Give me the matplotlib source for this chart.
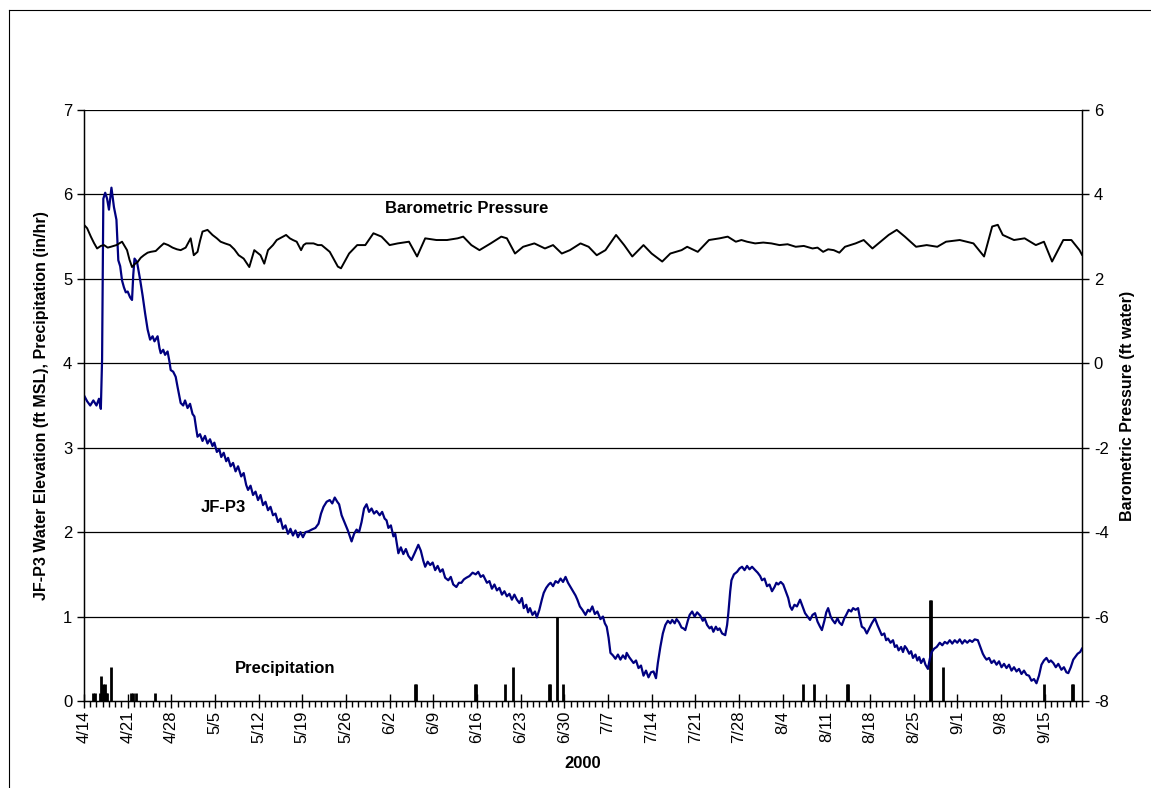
import matplotlib
matplotlib.use("Agg")
import matplotlib.pyplot as plt
from matplotlib.lines import Line2D
import numpy as np

plt.rcParams['font.family'] = ['Liberation Sans', 'DejaVu Sans']
plt.rcParams['axes.unicode_minus'] = False

# ---- data (days since 4/14/2000) ----
tick_labels = ['4/14', '4/21', '4/28', '5/5', '5/12', '5/19', '5/26', '6/2', '6/9', '6/16',
               '6/23', '6/30', '7/7', '7/14', '7/21', '7/28', '8/4', '8/11', '8/18', '8/25',
               '9/1', '9/8', '9/15']
tick_days = [7 * i for i in range(len(tick_labels))]

jf_days = [0.0, 0.5, 1.0, 1.5, 2.0, 2.4, 2.7, 2.9, 3.1, 3.4, 3.7, 4.0, 4.4, 4.8, 5.2, 5.5, 5.8, 6.1,
           6.4, 6.7, 7.0, 7.4, 7.7, 7.9, 8.1, 8.5, 9.0, 9.4, 9.8, 10.2, 10.6, 11.0, 11.3, 11.8, 12.1,
           12.3, 12.7, 13.0, 13.4, 13.7, 13.9, 14.3, 14.7, 15.0, 15.5, 15.9, 16.2, 16.6, 17.0, 17.4,
           17.7, 18.0, 18.2, 18.6, 19.0, 19.4, 19.8, 20.2, 20.6, 20.9, 21.3, 21.7, 22.0, 22.4, 22.8,
           23.1, 23.5, 23.9, 24.3, 24.7, 25.2, 25.6, 26.0, 26.3, 26.7, 27.1, 27.5, 27.9, 28.3, 28.7,
           29.1, 29.5, 29.9, 30.3, 30.7, 31.1, 31.5, 31.9, 32.3, 32.7, 33.1, 33.5, 33.9, 34.3, 34.7,
           35.1, 35.5, 36.0, 36.5, 37.1, 37.6, 38.0, 38.4, 38.9, 39.4, 39.8, 40.2, 40.6, 40.9, 41.3,
           41.8, 42.3, 42.9, 43.3, 43.7, 44.1, 44.5, 44.9, 45.3, 45.7, 46.1, 46.5, 46.9, 47.4, 47.8,
           48.2, 48.5, 48.8, 49.2, 49.6, 49.9, 50.4, 50.8, 51.2, 51.6, 52.0, 52.5, 53.0, 53.6, 54.0,
           54.4, 54.7, 55.1, 55.5, 55.9, 56.3, 56.7, 57.1, 57.5, 57.9, 58.4, 58.8, 59.2, 59.7, 60.1,
           60.5, 60.9, 61.3, 61.8, 62.3, 62.8, 63.2, 63.6, 64.0, 64.6, 65.0, 65.4, 65.8, 66.2, 66.6,
           67.0, 67.4, 67.8, 68.2, 68.6, 69.0, 69.4, 69.8, 70.2, 70.5, 70.9, 71.2, 71.5, 71.9, 72.3,
           72.6, 73.0, 73.4, 73.7, 74.1, 74.5, 74.8, 75.2, 75.6, 76.0, 76.4, 76.8, 77.2, 77.6, 78.0,
           78.4, 78.8, 79.1, 79.5, 79.9, 80.4, 80.8, 81.1, 81.5, 81.9, 82.3, 82.8, 83.2, 83.5, 83.8,
           84.1, 84.4, 84.8, 85.2, 85.6, 86.0, 86.4, 86.8, 87.0, 87.4, 87.8, 88.1, 88.5, 88.9, 89.3,
           89.7, 90.1, 90.5, 90.9, 91.3, 91.7, 92.0, 92.4, 92.8, 93.2, 93.6, 94.0, 94.3, 94.7, 95.0,
           95.4, 95.8, 96.1, 96.4, 96.8, 97.1, 97.5, 97.9, 98.3, 98.8, 99.2, 99.5, 99.9, 100.3, 100.6,
           100.9, 101.3, 101.6, 101.9, 102.3, 102.8, 103.1, 103.3, 103.6, 103.8, 104.2, 104.7, 105.1,
           105.5, 105.9, 106.3, 106.7, 107.1, 107.6, 108.0, 108.4, 108.7, 109.1, 109.5, 109.9, 110.3,
           110.7, 111.0, 111.3, 111.7, 112.1, 112.5, 112.9, 113.2, 113.5, 113.9, 114.3, 114.8, 115.2,
           115.6, 116.0, 116.4, 116.8, 117.2, 117.6, 118.0, 118.3, 118.7, 119.0, 119.3, 119.7, 120.0,
           120.4, 120.8, 121.1, 121.5, 121.9, 122.2, 122.6, 123.0, 123.3, 123.7, 124.1, 124.4, 124.7,
           125.1, 125.5, 125.9, 126.3, 126.8, 127.2, 127.6, 127.9, 128.3, 128.6, 128.9, 129.3, 129.7,
           130.0, 130.3, 130.6, 131.0, 131.3, 131.6, 131.9, 132.3, 132.6, 132.9, 133.3, 133.6, 133.9,
           134.2, 134.6, 134.9, 135.3, 135.6, 135.9, 136.3, 136.7, 137.2, 137.6, 138.0, 138.4, 138.8,
           139.2, 139.6, 140.0, 140.4, 140.8, 141.2, 141.6, 142.0, 142.4, 142.8, 143.3, 143.7, 144.1,
           144.4, 144.7, 145.1, 145.5, 145.9, 146.3, 146.7, 147.1, 147.5, 147.9, 148.3, 148.7, 149.1,
           149.5, 149.9, 150.3, 150.7, 151.1, 151.5, 151.9, 152.3, 152.7, 153.1, 153.5, 153.9, 154.3,
           154.7, 155.0, 155.4, 155.8, 156.2, 156.7, 157.1, 157.5, 157.8, 158.2, 158.6, 159.0, 159.3,
           159.7, 160.0]
jf_p3 = [3.62, 3.55, 3.50, 3.56, 3.50, 3.58, 3.46, 4.05, 5.95, 6.02, 5.95, 5.82, 6.08, 5.85, 5.70, 5.22,
         5.15, 4.98, 4.90, 4.84, 4.85, 4.78, 4.75, 5.05, 5.24, 5.20, 4.99, 4.80, 4.59, 4.40, 4.28, 4.32,
         4.26, 4.32, 4.18, 4.12, 4.16, 4.10, 4.14, 4.02, 3.92, 3.90, 3.84, 3.72, 3.53, 3.50, 3.56, 3.47,
         3.52, 3.40, 3.37, 3.22, 3.13, 3.16, 3.08, 3.14, 3.05, 3.10, 3.02, 3.06, 2.95, 2.98, 2.89, 2.94,
         2.84, 2.88, 2.78, 2.82, 2.72, 2.78, 2.66, 2.70, 2.56, 2.50, 2.55, 2.44, 2.48, 2.38, 2.44, 2.32,
         2.36, 2.26, 2.30, 2.20, 2.22, 2.12, 2.16, 2.04, 2.08, 1.98, 2.04, 1.96, 2.02, 1.94, 2.00, 1.94,
         2.00, 2.01, 2.03, 2.05, 2.10, 2.22, 2.30, 2.36, 2.38, 2.34, 2.41, 2.36, 2.33, 2.20, 2.11, 2.02,
         1.89, 1.98, 2.03, 2.00, 2.12, 2.28, 2.33, 2.24, 2.28, 2.22, 2.25, 2.20, 2.24, 2.16, 2.14, 2.05,
         2.08, 1.95, 1.98, 1.75, 1.82, 1.74, 1.80, 1.72, 1.67, 1.75, 1.85, 1.78, 1.66, 1.59, 1.65, 1.61,
         1.64, 1.55, 1.60, 1.53, 1.56, 1.46, 1.43, 1.47, 1.38, 1.35, 1.40, 1.40, 1.44, 1.46, 1.48, 1.52,
         1.50, 1.53, 1.47, 1.49, 1.40, 1.42, 1.33, 1.38, 1.31, 1.34, 1.26, 1.30, 1.24, 1.27, 1.20, 1.26,
         1.20, 1.16, 1.22, 1.10, 1.14, 1.05, 1.10, 1.02, 1.06, 0.99, 1.08, 1.20, 1.28, 1.34, 1.38, 1.40,
         1.36, 1.42, 1.40, 1.45, 1.41, 1.47, 1.40, 1.35, 1.30, 1.25, 1.20, 1.12, 1.08, 1.02, 1.08, 1.06,
         1.12, 1.03, 1.06, 0.97, 1.00, 0.92, 0.88, 0.75, 0.57, 0.54, 0.50, 0.55, 0.49, 0.54, 0.50, 0.57,
         0.52, 0.48, 0.45, 0.48, 0.39, 0.42, 0.30, 0.36, 0.28, 0.34, 0.35, 0.27, 0.45, 0.64, 0.80, 0.90,
         0.95, 0.92, 0.96, 0.92, 0.97, 0.93, 0.87, 0.86, 0.84, 0.95, 1.02, 1.06, 1.00, 1.05, 1.01, 0.95,
         0.98, 0.90, 0.86, 0.88, 0.82, 0.88, 0.84, 0.86, 0.80, 0.78, 0.90, 1.04, 1.30, 1.43, 1.50, 1.53,
         1.57, 1.59, 1.55, 1.60, 1.56, 1.59, 1.55, 1.52, 1.48, 1.43, 1.45, 1.36, 1.38, 1.30, 1.35, 1.40,
         1.38, 1.41, 1.38, 1.30, 1.22, 1.12, 1.08, 1.14, 1.12, 1.20, 1.12, 1.04, 1.00, 0.96, 1.02, 1.04,
         0.94, 0.88, 0.84, 0.95, 1.05, 1.10, 1.00, 0.96, 0.92, 0.98, 0.93, 0.90, 0.98, 1.02, 1.08, 1.06,
         1.10, 1.08, 1.10, 0.98, 0.88, 0.86, 0.80, 0.86, 0.92, 0.98, 0.90, 0.83, 0.78, 0.80, 0.72, 0.74,
         0.69, 0.72, 0.64, 0.66, 0.60, 0.64, 0.58, 0.65, 0.62, 0.56, 0.59, 0.51, 0.55, 0.48, 0.52, 0.45,
         0.50, 0.43, 0.38, 0.50, 0.58, 0.62, 0.64, 0.69, 0.66, 0.70, 0.68, 0.72, 0.68, 0.72, 0.69, 0.73,
         0.68, 0.72, 0.69, 0.72, 0.70, 0.73, 0.72, 0.64, 0.56, 0.52, 0.49, 0.51, 0.45, 0.48, 0.43, 0.47,
         0.40, 0.44, 0.39, 0.43, 0.36, 0.40, 0.35, 0.38, 0.32, 0.36, 0.31, 0.30, 0.24, 0.26, 0.21, 0.30,
         0.43, 0.48, 0.51, 0.46, 0.48, 0.45, 0.40, 0.44, 0.37, 0.40, 0.34, 0.33, 0.40, 0.49, 0.53, 0.56,
         0.58, 0.62]

baro_days = [0, 0.5, 1.1, 1.6, 2.1, 2.7, 3.2, 3.8, 4.3, 5.2, 6.1, 6.9, 7.3, 7.7, 8.2, 8.6, 9.1, 9.6,
             10.2, 10.7, 11.5, 12.2, 12.8, 13.5, 14.2, 14.9, 15.5, 16.3, 17.1, 17.6, 18.2, 18.6, 19.0,
             19.8, 20.6, 21.3, 21.9, 22.6, 23.4, 24.1, 24.8, 25.6, 26.5, 27.3, 27.8, 28.3, 28.9, 29.5,
             30.3, 30.9, 31.9, 32.4, 33.0, 33.5, 34.1, 34.8, 35.2, 35.6, 36.8, 37.5, 38.1, 39.4, 40.7,
             41.2, 42.5, 43.8, 45.1, 46.4, 47.7, 49.0, 50.3, 52.1, 53.4, 54.7, 56.5, 58.2, 59.9, 60.8,
             62.1, 63.4, 65.2, 66.9, 67.8, 69.1, 70.4, 72.2, 73.9, 75.2, 76.6, 77.9, 79.6, 80.9, 82.2,
             83.6, 85.3, 86.6, 87.9, 89.7, 91.0, 92.7, 94.0, 95.8, 96.7, 98.4, 100.2, 101.9, 103.2,
             104.5, 105.4, 106.3, 107.6, 108.9, 110.2, 111.5, 112.8, 114.1, 115.4, 116.8, 117.6, 118.5,
             119.3, 120.2, 121.1, 122.0, 123.7, 125.0, 126.4, 127.7,
             129.0, 130.3, 131.6, 133.4, 135.1, 136.8, 138.2, 140.4, 142.6, 144.3, 145.6, 146.5, 147.3,
             149.1, 150.8, 152.6, 153.9, 155.2, 157.0, 158.3, 159.6, 160.0]
baro = [3.28, 3.20, 3.00, 2.85, 2.72, 2.78, 2.80, 2.74, 2.76, 2.80, 2.88, 2.68, 2.45, 2.28, 2.36, 2.40,
        2.50, 2.56, 2.62, 2.64, 2.66, 2.76, 2.84, 2.80, 2.74, 2.70, 2.68, 2.74, 2.96, 2.56, 2.64, 2.90,
        3.12, 3.16, 3.04, 2.96, 2.88, 2.84, 2.80, 2.70, 2.56, 2.48, 2.28, 2.68, 2.62, 2.56, 2.36, 2.68,
        2.80, 2.92, 3.00, 3.04, 2.96, 2.92, 2.88, 2.68, 2.80, 2.84, 2.84, 2.80, 2.80, 2.64, 2.29, 2.25,
        2.60, 2.80, 2.80, 3.08, 3.00, 2.80, 2.84, 2.88, 2.53, 2.96, 2.92, 2.92, 2.96, 3.00, 2.80, 2.68,
        2.84, 3.00, 2.96, 2.60, 2.76, 2.84, 2.72, 2.80, 2.60, 2.68, 2.84, 2.76, 2.56, 2.68, 3.04, 2.80,
        2.53, 2.80, 2.60, 2.41, 2.60, 2.68, 2.76, 2.64, 2.92, 2.96, 3.00, 2.88, 2.92, 2.88, 2.84, 2.86,
        2.84, 2.80, 2.82, 2.76, 2.78, 2.72, 2.74, 2.64, 2.70, 2.68, 2.62, 2.76, 2.84, 2.92, 2.72, 2.88,
        3.04, 3.16, 3.00, 2.76, 2.80, 2.76, 2.88, 2.92,
        2.84, 2.53, 3.24, 3.28, 3.04, 2.92, 2.96, 2.80, 2.88, 2.41, 2.92, 2.92, 2.68, 2.57]

precip_days = [1.4, 1.76, 2.6, 2.8, 3.0, 3.2, 3.4, 3.6, 3.75, 4.3, 7.6, 7.9, 8.3, 11.4,
               53.1, 53.3, 62.7, 62.9, 67.5, 68.8, 74.5, 74.7, 75.9, 76.8,
               115.3, 117.1, 122.3, 122.5, 135.6, 135.8, 137.7, 153.9, 158.4, 158.6]
precip = [0.1, 0.1, 0.1, 0.3, 0.2, 0.1, 0.2, 0.1, 0.1, 0.4, 0.1, 0.1, 0.1, 0.1,
          0.2, 0.2, 0.2, 0.2, 0.2, 0.4, 0.2, 0.2, 1.0, 0.2,
          0.2, 0.2, 0.2, 0.2, 1.2, 1.2, 0.4, 0.2, 0.2, 0.2]

# ---- figure ----
W, H = 1151, 788
fig = plt.figure(figsize=(W / 100, H / 100), dpi=100)
ax = fig.add_axes([84 / W, 1 - 701 / H, (1082 - 84) / W, (701 - 110) / H])

for yv in range(1, 8):
    ax.axhline(yv, color='black', lw=0.9, zorder=1)

ax.vlines(precip_days, 0, precip, colors='black', lw=2.0, zorder=2)
ax.plot(jf_days, jf_p3, color='#000080', lw=1.6, zorder=3)

ax.set_xlim(0, 160)
ax.set_ylim(0, 7)
ax.set_yticks(range(0, 8))
ax.set_xticks(tick_days)
ax.set_xticklabels(tick_labels, rotation=90)
ax.set_xticks(np.arange(0, 161, 1), minor=True)
ax.tick_params(axis='x', which='major', direction='inout', length=10, width=1, labelsize=12, pad=2)
ax.tick_params(axis='x', which='minor', direction='out', length=4, width=1)
ax.tick_params(axis='y', which='major', direction='out', length=5, width=1, labelsize=12)
ax.spines['top'].set_visible(False)
for s in ['left', 'right', 'bottom']:
    ax.spines[s].set_linewidth(1.0)
ax.set_ylabel('JF-P3 Water Elevation (ft MSL), Precipitation (in/hr)',
              fontsize=11.5, fontweight='bold', labelpad=10)
ax.set_xlabel('2000', fontsize=12, fontweight='bold', labelpad=9)

ax2 = ax.twinx()
ax2.plot(baro_days, baro, color='black', lw=1.4, zorder=4)
ax2.set_ylim(-8, 6)
ax2.set_yticks(range(-8, 7, 2))
ax2.tick_params(axis='y', direction='out', length=5, width=1, labelsize=12)
ax2.spines['top'].set_visible(False)
ax2.set_ylabel('Barometric Pressure (ft water)', fontsize=11.5, fontweight='bold', labelpad=8)

ax.text(61.4, 5.83, 'Barometric Pressure', fontsize=12, fontweight='bold', ha='center', va='center')
ax.text(22.4, 2.29, 'JF-P3', fontsize=12, fontweight='bold', ha='center', va='center')
ax.text(32.3, 0.38, 'Precipitation', fontsize=12, fontweight='bold', ha='center', va='center')

# chart area border (partially visible)
fig.add_artist(Line2D([9 / W, 1.0], [1 - 10 / H, 1 - 10 / H], color='black', lw=0.8))
fig.add_artist(Line2D([9 / W, 9 / W], [0.0, 1 - 10 / H], color='black', lw=0.8))

fig.savefig('out.png', dpi=100)
